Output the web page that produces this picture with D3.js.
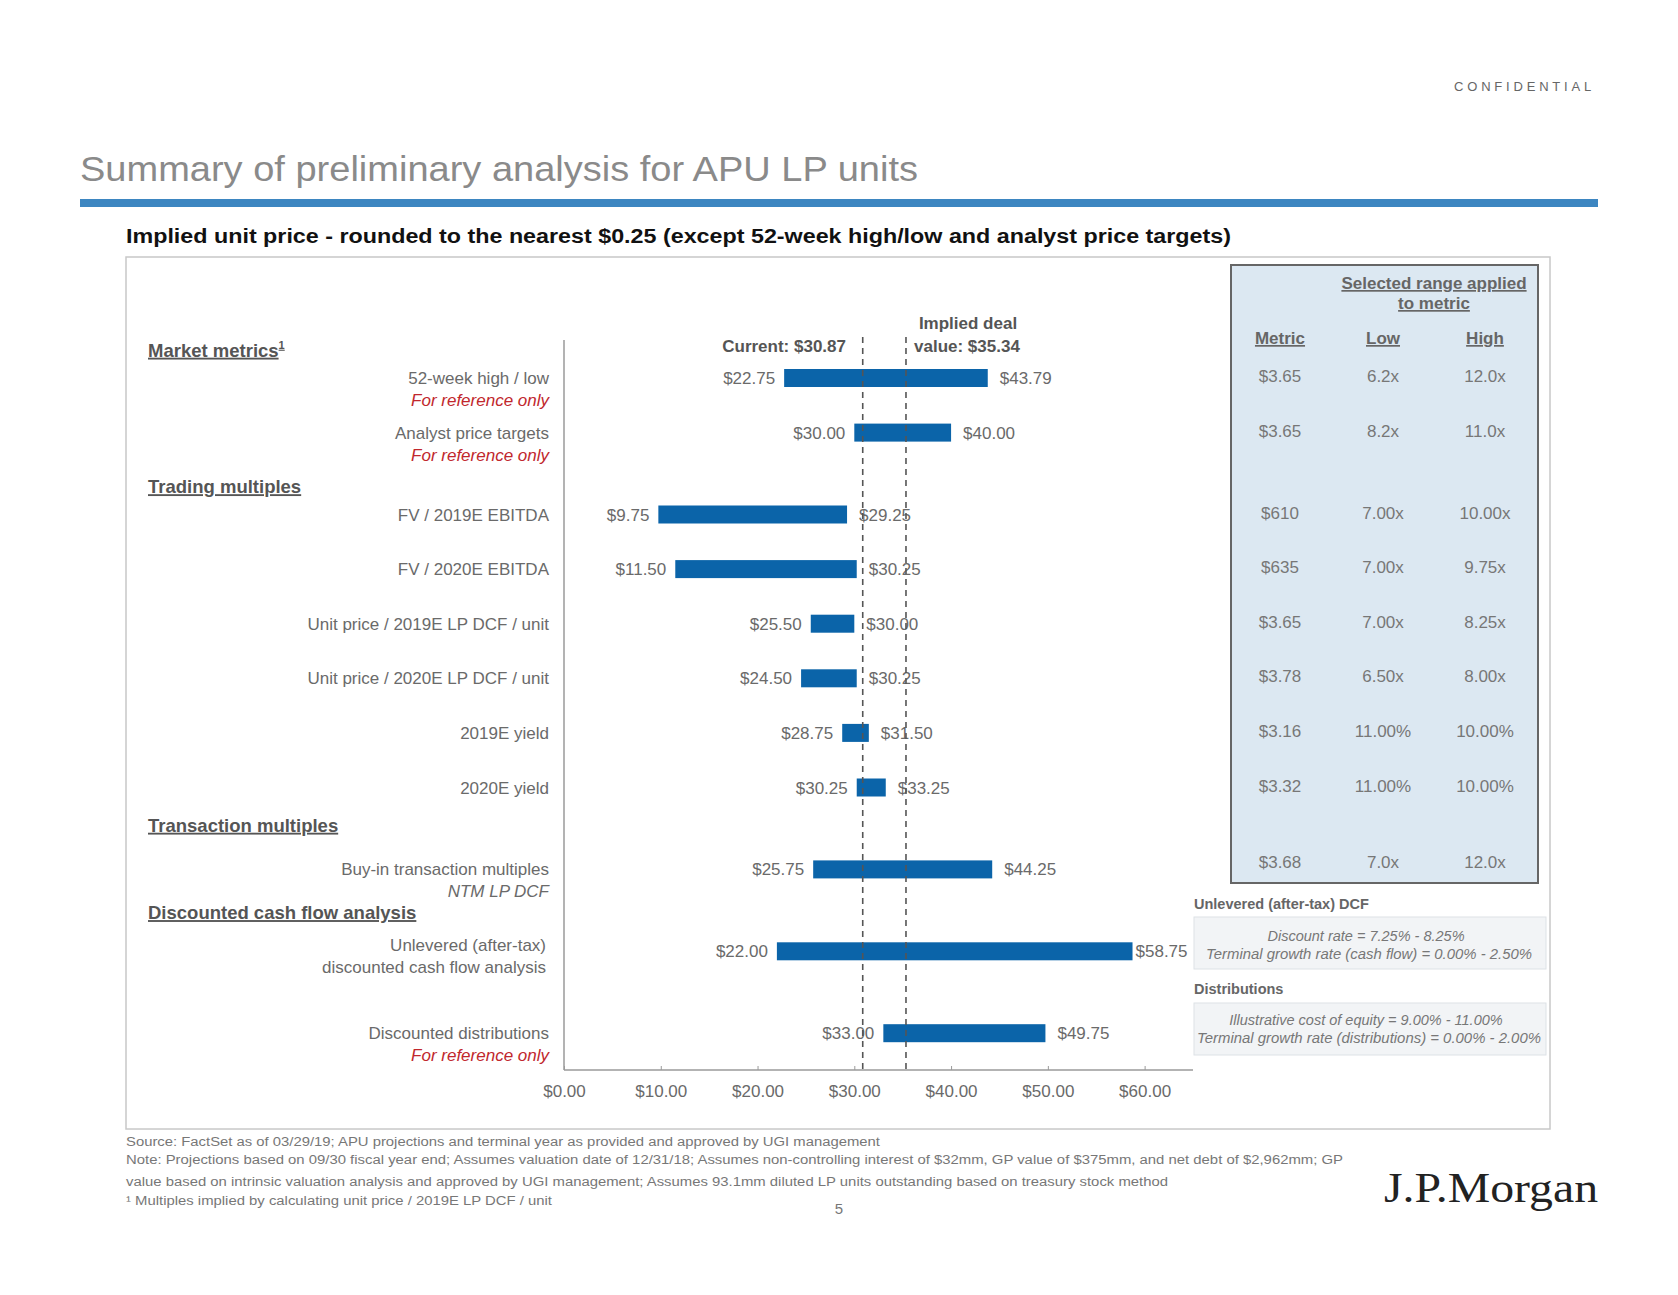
<!DOCTYPE html>
<html><head><meta charset="utf-8">
<script src="https://cdn.jsdelivr.net/npm/d3@7"></script>
<style>body{margin:0;background:#fff}svg{display:block;font-family:"Liberation Sans",Arial,sans-serif}</style>
</head><body><svg id="c" width="1678" height="1295"></svg>
<script>
// ---------- data ----------
const categories = ["52-week high / low","Analyst price targets","FV / 2019E EBITDA","FV / 2020E EBITDA",
  "Unit price / 2019E LP DCF / unit","Unit price / 2020E LP DCF / unit","2019E yield","2020E yield",
  "Buy-in transaction multiples","Unlevered (after-tax)|discounted cash flow analysis","Discounted distributions"];
const subLabels = ["For reference only","For reference only","","","","","","","NTM LP DCF","","For reference only"];
const lowValues  = [22.75,30.00, 9.75,11.50,25.50,24.50,28.75,30.25,25.75,22.00,33.00];
const highValues = [43.79,40.00,29.25,30.25,30.00,30.25,31.50,33.25,44.25,58.75,49.75];
const lowLabels  = ["$22.75","$30.00","$9.75","$11.50","$25.50","$24.50","$28.75","$30.25","$25.75","$22.00","$33.00"];
const highLabels = ["$43.79","$40.00","$29.25","$30.25","$30.00","$30.25","$31.50","$33.25","$44.25","$58.75","$49.75"];
const sections = ["Market metrics","Trading multiples","Transaction multiples","Discounted cash flow analysis"];
const refLines = [30.87, 35.34];
const tickValues = [0,10,20,30,40,50,60];
const tableMetric = ["$3.65","$3.65","$610","$635","$3.65","$3.78","$3.16","$3.32","$3.68"];
const tableLow    = ["6.2x","8.2x","7.00x","7.00x","7.00x","6.50x","11.00%","11.00%","7.0x"];
const tableHigh   = ["12.0x","11.0x","10.00x","9.75x","8.25x","8.00x","10.00%","10.00%","12.0x"];

// ---------- layout (not data) ----------
const rowSlot = [0,1,2.5,3.5,4.5,5.5,6.5,7.5,9,10.5,12];
const sectionSlot = [-0.5,2.0,8.2,9.8];

const svg = d3.select("#c");
svg.append("rect").attr("width",1678).attr("height",1295).attr("fill","#fff");

const x = d3.scaleLinear().domain([0,65]).range([564,1193]);
const y = d3.scaleLinear().domain([0,1]).range([378,432.6]);
const gray="#6a6a6a", blue="#0b64a9", red="#c1272d";

// header
svg.append("text").attr("x",1595).attr("y",91).attr("text-anchor","end").attr("font-size",13)
  .attr("letter-spacing",3.8).attr("fill","#666").text("CONFIDENTIAL");
svg.append("text").attr("x",80).attr("y",181).attr("font-size",35).attr("fill","#8a8a8a")
  .attr("textLength",838).attr("lengthAdjust","spacingAndGlyphs").text("Summary of preliminary analysis for APU LP units");
svg.append("rect").attr("x",80).attr("y",199).attr("width",1518).attr("height",8).attr("fill","#3d86c1");
svg.append("text").attr("x",126).attr("y",243).attr("font-size",20).attr("font-weight","bold").attr("fill","#111")
  .attr("textLength",1105).attr("lengthAdjust","spacingAndGlyphs")
  .text("Implied unit price - rounded to the nearest $0.25 (except 52-week high/low and analyst price targets)");

// outer box
svg.append("rect").attr("x",126).attr("y",257).attr("width",1424).attr("height",872)
  .attr("fill","none").attr("stroke","#c8c8c8").attr("stroke-width",1.5);

// right panel
svg.append("rect").attr("x",1231).attr("y",265).attr("width",307).attr("height",618)
  .attr("fill","#dce8f2").attr("stroke","#666").attr("stroke-width",2);

// section headers
const sec = svg.append("g");
sections.forEach((s,i)=>{
  const t = sec.append("text").attr("x",148).attr("y",y(sectionSlot[i])+6).attr("font-size",18.5)
    .attr("font-weight","bold").attr("fill","#555").attr("text-decoration","underline").text(s);
  if(i===0) t.append("tspan").attr("font-size",11).attr("dy",-8).text("1");
});

// category labels
const lab = svg.append("g").attr("font-size",17).attr("fill",gray).attr("text-anchor","end");
categories.forEach((c,i)=>{
  const parts = c.split("|");
  const hasSub = subLabels[i] !== "";
  const yc = y(rowSlot[i]);
  if(parts.length===2){
    lab.append("text").attr("x",546).attr("y",yc).text(parts[0]);
    lab.append("text").attr("x",546).attr("y",yc+22).text(parts[1]);
  } else if(hasSub){
    lab.append("text").attr("x",549).attr("y",yc+6).text(parts[0]);
    lab.append("text").attr("x",549).attr("y",yc+28).attr("font-style","italic")
      .attr("fill", subLabels[i]==="For reference only"?red:gray).text(subLabels[i]);
  } else {
    lab.append("text").attr("x",549).attr("y",yc+6).text(parts[0]);
  }
});

// axes
svg.append("line").attr("x1",564).attr("x2",564).attr("y1",340).attr("y2",1070).attr("stroke","#9a9a9a").attr("stroke-width",1.5);
const ax = svg.append("g").attr("transform","translate(0,1070)")
  .call(d3.axisBottom(x).tickValues(tickValues).tickSize(4).tickFormat(d=>"$"+d.toFixed(2)));
ax.select(".domain").attr("stroke","#9a9a9a").attr("stroke-width",1.5).attr("d","M564,0H1193");
ax.selectAll(".tick line").attr("stroke","#9a9a9a").attr("y2",-4);
ax.selectAll(".tick text").attr("font-size",17).attr("fill",gray).attr("dy","1.2em")
  .attr("font-family","Liberation Sans, Arial");

// bars
const bh=18;
const bars = svg.append("g");
bars.selectAll("rect").data(categories).join("rect")
  .attr("x",(d,i)=>x(lowValues[i])).attr("width",(d,i)=>x(highValues[i])-x(lowValues[i]))
  .attr("y",(d,i)=>y(rowSlot[i])-bh/2).attr("height",bh).attr("fill",blue);

// value labels
const vl = svg.append("g").attr("font-size",17).attr("fill",gray);
vl.selectAll("text.lo").data(categories).join("text").attr("class","lo")
  .attr("x",(d,i)=>x(lowValues[i])-9).attr("y",(d,i)=>y(rowSlot[i])+6).attr("text-anchor","end")
  .text((d,i)=>lowLabels[i]);
vl.selectAll("text.hi").data(categories).join("text").attr("class","hi")
  .attr("x",(d,i)=>x(highValues[i])+(i===9?3:12)).attr("y",(d,i)=>y(rowSlot[i])+6)
  .text((d,i)=>highLabels[i]);

// reference lines
svg.append("g").selectAll("line").data(refLines).join("line")
  .attr("x1",d=>x(d)).attr("x2",d=>x(d)).attr("y1",337).attr("y2",1070)
  .attr("stroke","#555").attr("stroke-width",1.6).attr("stroke-dasharray","6,5");
svg.append("text").attr("x",846).attr("y",352).attr("text-anchor","end").attr("font-size",17)
  .attr("font-weight","bold").attr("fill","#555").text("Current: $"+refLines[0].toFixed(2));
svg.append("text").attr("x",968).attr("y",329).attr("text-anchor","middle").attr("font-size",17)
  .attr("font-weight","bold").attr("fill","#555").text("Implied deal");
svg.append("text").attr("x",914).attr("y",352).attr("font-size",17)
  .attr("font-weight","bold").attr("fill","#555").text("value: $"+refLines[1].toFixed(2));

// table
const tb = svg.append("g").attr("font-size",17).attr("fill","#777").attr("text-anchor","middle");
const colX=[1280,1383,1485];
tb.append("text").attr("x",1434).attr("y",289).attr("font-weight","bold").attr("fill","#666")
  .attr("text-decoration","underline").text("Selected range applied");
tb.append("text").attr("x",1434).attr("y",309).attr("font-weight","bold").attr("fill","#666")
  .attr("text-decoration","underline").text("to metric");
["Metric","Low","High"].forEach((h,i)=>tb.append("text").attr("x",colX[i]).attr("y",344)
  .attr("font-weight","bold").attr("fill","#666").attr("text-decoration","underline").text(h));
[tableMetric,tableLow,tableHigh].forEach((col,j)=>{
  col.forEach((v,i)=>tb.append("text").attr("x",colX[j]).attr("y",y(rowSlot[i])+(i===8?-1:4)).text(v));
});

// assumption notes
const nt = svg.append("g");
nt.append("text").attr("x",1194).attr("y",909).attr("font-size",14.5).attr("font-weight","bold").attr("fill","#666")
  .text("Unlevered (after-tax) DCF");
nt.append("rect").attr("x",1194).attr("y",917).attr("width",352).attr("height",52).attr("fill","#f2f4f6").attr("stroke","#dde2e6");
nt.append("text").attr("x",1366).attr("y",941).attr("text-anchor","middle").attr("font-size",14.5).attr("font-style","italic")
  .attr("fill","#777").text("Discount rate = 7.25% - 8.25%");
nt.append("text").attr("x",1369).attr("y",959).attr("text-anchor","middle").attr("font-size",14.5).attr("font-style","italic")
  .attr("fill","#777").attr("textLength",326).attr("lengthAdjust","spacingAndGlyphs").text("Terminal growth rate (cash flow) = 0.00% - 2.50%");
nt.append("text").attr("x",1194).attr("y",994).attr("font-size",14.5).attr("font-weight","bold").attr("fill","#666")
  .text("Distributions");
nt.append("rect").attr("x",1194).attr("y",1003).attr("width",352).attr("height",52).attr("fill","#f2f4f6").attr("stroke","#dde2e6");
nt.append("text").attr("x",1366).attr("y",1025).attr("text-anchor","middle").attr("font-size",14.5).attr("font-style","italic")
  .attr("fill","#777").text("Illustrative cost of equity = 9.00% - 11.00%");
nt.append("text").attr("x",1369).attr("y",1043).attr("text-anchor","middle").attr("font-size",14.5).attr("font-style","italic")
  .attr("fill","#777").attr("textLength",344).attr("lengthAdjust","spacingAndGlyphs").text("Terminal growth rate (distributions) = 0.00% - 2.00%");

// footer
const ft = svg.append("g").attr("font-size",12.5).attr("fill","#777");
const foot = [
 ["Source: FactSet as of 03/29/19; APU projections and terminal year as provided and approved by UGI management",1146,754],
 ["Note: Projections based on 09/30 fiscal year end; Assumes valuation date of 12/31/18; Assumes non-controlling interest of $32mm, GP value of $375mm, and net debt of $2,962mm; GP",1164,1217],
 ["value based on intrinsic valuation analysis and approved by UGI management; Assumes 93.1mm diluted LP units outstanding based on treasury stock method",1186,1042],
 ["\u00B9 Multiples implied by calculating unit price / 2019E LP DCF / unit",1205,426]];
foot.forEach(f=>ft.append("text").attr("x",126).attr("y",f[1]).attr("textLength",f[2]).attr("lengthAdjust","spacingAndGlyphs").text(f[0]));
svg.append("text").attr("x",839).attr("y",1214).attr("text-anchor","middle").attr("font-size",15).attr("fill","#777").text("5");
svg.append("text").attr("x",1598).attr("y",1202).attr("text-anchor","end").attr("font-size",42)
  .attr("font-family","Liberation Serif, Times New Roman, serif").attr("fill","#222")
  .attr("textLength",214).attr("lengthAdjust","spacingAndGlyphs").text("J.P.Morgan");
</script></body></html>
